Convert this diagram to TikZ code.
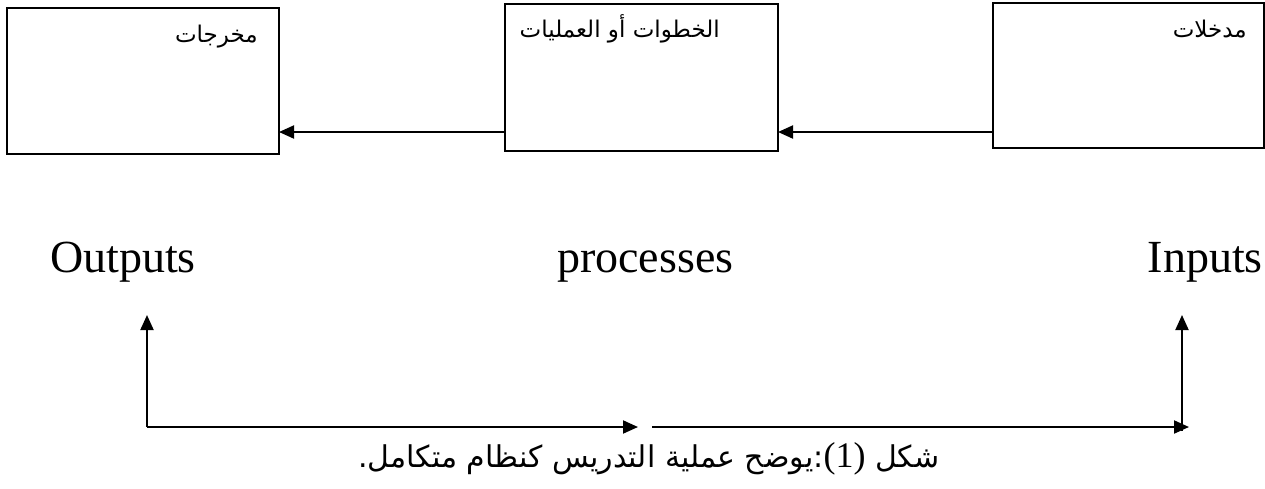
\documentclass[tikz,border=0pt]{standalone}
\usepackage{fontspec}
\setmainfont{Liberation Serif}
\newfontfamily\arabicfont[Script=Arabic]{DejaVu Sans}
\newfontfamily\latinfont{Liberation Serif}
\TeXXeTstate=1
\usetikzlibrary{arrows.meta}
\begin{document}
\begin{tikzpicture}[x=1pt,y=-1pt,
  boxst/.style={draw=black,line width=1.5pt},
  arr/.style={line width=2pt,-{Triangle[length=15pt,width=13pt]}},
  boxlbl/.style={inner sep=0pt,font=\arabicfont\fontsize{23}{26}\selectfont},
  latlbl/.style={inner sep=0pt,font=\latinfont\fontsize{46}{50}\selectfont},
  captxt/.style={inner sep=0pt,font=\arabicfont\fontsize{30}{34}\selectfont}]
\useasboundingbox (0,0) rectangle (1265,488);
% boxes
\path[boxst] (7,8) rectangle (279,154);
\path[boxst] (505,4) rectangle (778,151);
\path[boxst] (993,3) rectangle (1264,148);
\coordinate (outE) at (279,132);
\coordinate (procW) at (505,132);
\coordinate (procE) at (778,132);
\coordinate (inpW) at (993,132);
\draw[arr] (procW) -- (outE);
\draw[arr] (inpW) -- (procE);
% box labels
\node[boxlbl,anchor=base east] (lout) at (258,42) {\beginR مخرجات\endR};
\node[boxlbl,anchor=base east] (lproc) at (720,37) {\beginR الخطوات أو العمليات\endR};
\node[boxlbl,anchor=base east] (linp) at (1247,37) {\beginR مدخلات\endR};
% latin labels
\node[latlbl,anchor=base west] (tout) at (50,272) {Outputs};
\node[latlbl,anchor=base west] (tproc) at (557,272) {processes};
\node[latlbl,anchor=base east] (tinp) at (1263,272) {Inputs};
% bottom arrows
\coordinate (bl) at (147,427);
\coordinate (tl) at (147,315);
\coordinate (m1) at (638,427);
\coordinate (m2) at (652,427);
\coordinate (br) at (1189,427);
\coordinate (vr0) at (1182,431);
\coordinate (tr) at (1182,315);
\draw[arr] (bl) -- (tl);
\draw[arr] (bl) -- (m1);
\draw[arr] (m2) -- (br);
\draw[arr] (vr0) -- (tr);
% caption
\node[captxt,anchor=base west] (caption) at (358,467) {\beginR شكل {\latinfont\fontsize{36}{40}\selectfont\beginL(1)\endL}:يوضح عملية التدريس كنظام متكامل.\endR};
\end{tikzpicture}
\end{document}
